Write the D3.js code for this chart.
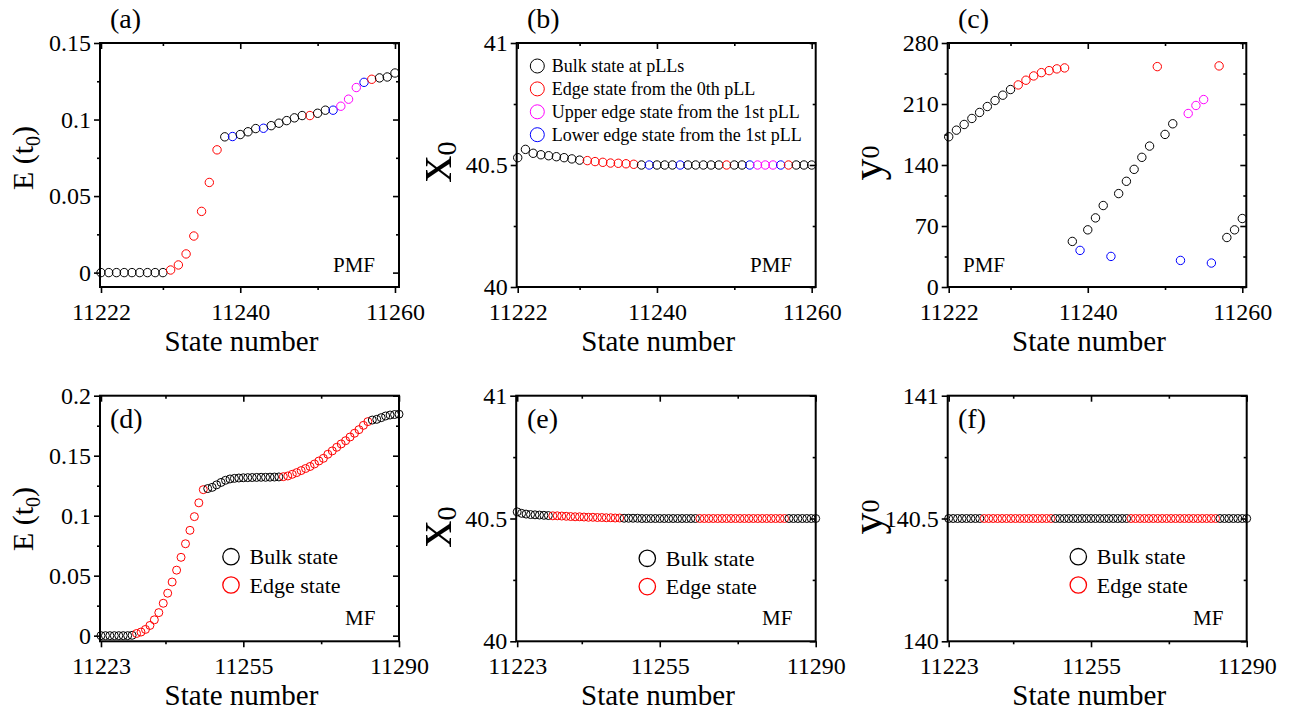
<!DOCTYPE html>
<html>
<head>
<meta charset="utf-8">
<script src="https://cdn.jsdelivr.net/npm/d3@7"></script>
<style>
  body { margin: 0; background: #fff; }
  svg { display: block; font-family: "Liberation Serif", "Times New Roman", serif; }
</style>
</head>
<body>
<svg id="chart" width="1311" height="713"></svg>
<script>
// ---- data ----
// PMF: states 11222..11260
const pmfStart = 11222, pmfEnd = 11260
// b = bulk, r = edge 0th pLL, u = upper edge 1st pLL, l = lower edge 1st pLL
const pmfKinds = "bbbbbbbbbrrrrrrrblbbblbbbbbrbbluuulrbbb".split("")
const pmfE = [0, 0, 0, 0, 0, 0, 0, 0, 0,
  0.0017, 0.005, 0.0122, 0.0239, 0.040, 0.0589, 0.0802,
  0.0887, 0.0889, 0.0902, 0.092, 0.0941, 0.0943, 0.096, 0.0976, 0.0993, 0.1011, 0.1026,
  0.1026, 0.1041, 0.1061, 0.1061, 0.1087, 0.1133, 0.1209, 0.1243, 0.1263, 0.1272, 0.1278, 0.1304]
const pmfX0 = [40.530, 40.564, 40.548, 40.542, 40.538, 40.534, 40.530, 40.525, 40.520,
  40.518, 40.514, 40.511, 40.508, 40.507, 40.505, 40.503,
  40.5, 40.5, 40.5, 40.5, 40.5, 40.5, 40.5, 40.5, 40.5, 40.5, 40.5, 40.5,
  40.5, 40.5, 40.5, 40.5, 40.5, 40.5, 40.5, 40.5, 40.5, 40.5, 40.5]
const pmfY0 = [172.4, 180, 186.5, 193.4, 200.3, 207.1, 214, 220.1, 226.6,
  231.9, 237.3, 242.2, 246, 248.3, 250.3, 251.4,
  52.3, 42, 65.6, 79.3, 93.5, 35.1, 107.2, 121.3, 135, 148.8, 161.7, 252.9,
  175.1, 187.3, 30.5, 199.1, 208.3, 215.1, 27.5, 253.7, 56.8, 65.6, 78.6]

// MF: states 11223..11290
const mfStart = 11223, mfEnd = 11290
const mfKinds = ("bbbbbbbb" + "rrrrrrrrrrrrrrrr" + "bbbbbbbbbbbbbbbbb" +
  "rrrrrrrrrrrrrrrrrrrr" + "bbbbbbb").split("")
const mfE = [0, 0, 0, 0, 0, 0, 0, 0.0003,
  0.0018, 0.003, 0.0052, 0.0085, 0.0132, 0.0192, 0.027, 0.0354, 0.0447, 0.0546, 0.0653,
  0.0766, 0.0878, 0.0992, 0.1107, 0.1217,
  0.1226, 0.1236, 0.1257, 0.1277, 0.1295, 0.1306, 0.1311, 0.1314, 0.1316, 0.1317, 0.1318,
  0.1319, 0.132, 0.132, 0.1321, 0.1322, 0.1323,
  0.1325, 0.1331, 0.1345, 0.1359, 0.1376, 0.1393, 0.141, 0.1431, 0.1456, 0.1478, 0.1512,
  0.154, 0.157, 0.1598, 0.1625, 0.1656, 0.1687, 0.1717, 0.1753, 0.1784,
  0.1797, 0.1803, 0.1817, 0.1831, 0.1839, 0.1843, 0.1846]
const mfX0 = [40.527, 40.521, 40.518, 40.516, 40.515, 40.514, 40.513, 40.512,
  40.511, 40.511, 40.510, 40.509, 40.508, 40.507, 40.507, 40.506, 40.505, 40.505, 40.504,
  40.504, 40.503, 40.503, 40.502, 40.502,
  40.501, 40.501, 40.501, 40.501, 40.5, 40.5, 40.5, 40.5, 40.5, 40.5, 40.5, 40.5, 40.5,
  40.5, 40.5, 40.5, 40.5,
  40.5, 40.5, 40.5, 40.5, 40.5, 40.5, 40.5, 40.5, 40.5, 40.5, 40.5, 40.5, 40.5, 40.5,
  40.5, 40.5, 40.5, 40.5, 40.5, 40.5,
  40.5, 40.5, 40.5, 40.5, 40.5, 40.5, 40.5]
const mfY0 = [140.5, 140.5, 140.5, 140.5, 140.5, 140.5, 140.5, 140.5,
  140.5, 140.5, 140.5, 140.5, 140.5, 140.5, 140.5, 140.5, 140.5, 140.5, 140.5, 140.5,
  140.5, 140.5, 140.5, 140.5,
  140.5, 140.5, 140.5, 140.5, 140.5, 140.5, 140.5, 140.5, 140.5, 140.5, 140.5, 140.5,
  140.5, 140.5, 140.5, 140.5, 140.5,
  140.5, 140.5, 140.5, 140.5, 140.5, 140.5, 140.5, 140.5, 140.5, 140.5, 140.5, 140.5,
  140.5, 140.5, 140.5, 140.5, 140.5, 140.5, 140.5, 140.5,
  140.5, 140.5, 140.5, 140.5, 140.5, 140.5, 140.5]

const pmfXTicks = [11222, 11240, 11260], pmfXMinor = [11230, 11250]
const mfXTicks = [11223, 11255, 11290], mfXMinor = [11237.5, 11272.5]

const kindColor = { b: "#000000", r: "#ff0000", u: "#ff00ff", l: "#0000ff" }
const pmfLegend = [
  ["b", "Bulk state at pLLs"],
  ["r", "Edge state from the 0th pLL"],
  ["u", "Upper edge state from the 1st pLL"],
  ["l", "Lower edge state from the 1st pLL"]]
const mfLegend = [["b", "Bulk state"], ["r", "Edge state"]]

const pmfStates = d3.range(pmfStart, pmfEnd + 1)
const mfStates = d3.range(mfStart, mfEnd + 1)

const svg = d3.select("#chart")
svg.append("rect").attr("width", 1311).attr("height", 713).attr("fill", "#fff")

function panel(c) {
  const x = d3.scaleLinear().domain(c.xDomain).range([c.left, c.right])
  const y = d3.scaleLinear().domain(c.yDomain).range([c.bottom, c.top])
  const g = svg.append("g")

  // left axis: labels + outward ticks
  g.append("g").attr("transform", `translate(${c.left},0)`)
    .call(d3.axisLeft(y).tickValues(c.yTicks).tickSize(6).tickPadding(3).tickFormat(c.yFormat))
  g.append("g").attr("transform", `translate(${c.left},0)`)
    .call(d3.axisLeft(y).tickValues(c.yMinor).tickSize(3).tickFormat(""))
  // right axis: inward ticks
  g.append("g").attr("transform", `translate(${c.right},0)`)
    .call(d3.axisLeft(y).tickValues(c.yTicks).tickSize(6).tickFormat(""))
  g.append("g").attr("transform", `translate(${c.right},0)`)
    .call(d3.axisLeft(y).tickValues(c.yMinor).tickSize(3).tickFormat(""))
  // bottom axis
  g.append("g").attr("transform", `translate(0,${c.bottom})`)
    .call(d3.axisBottom(x).tickValues(c.xTicks).tickSize(6).tickPadding(9.5).tickFormat(d3.format("d")))
  g.append("g").attr("transform", `translate(0,${c.bottom})`)
    .call(d3.axisBottom(x).tickValues(c.xMinor).tickSize(3).tickFormat(""))
  // top axis: inward ticks
  g.append("g").attr("transform", `translate(0,${c.top})`)
    .call(d3.axisBottom(x).tickValues(c.xTicks).tickSize(6).tickFormat(""))
  g.append("g").attr("transform", `translate(0,${c.top})`)
    .call(d3.axisBottom(x).tickValues(c.xMinor).tickSize(3).tickFormat(""))

  g.selectAll(".domain").remove()
  g.selectAll(".tick line").attr("stroke", "#000").attr("stroke-width", 1.6)
  g.selectAll(".tick text").attr("font-size", 24).attr("fill", "#000")
    .attr("font-family", "Liberation Serif, serif")

  // points
  const pts = c.states.map((s, i) => ({ s: s, v: c.values[i], k: c.kinds[i] }))
  g.append("g").selectAll("circle")
    .data(pts)
    .join("circle")
      .attr("cx", d => x(d.s))
      .attr("cy", d => y(d.v))
      .attr("r", c.r)
      .attr("fill", "none")
      .attr("stroke", d => kindColor[d.k])
      .attr("stroke-width", 1)

  // frame
  g.append("rect")
    .attr("x", c.left).attr("y", c.top)
    .attr("width", c.right - c.left).attr("height", c.bottom - c.top)
    .attr("fill", "none").attr("stroke", "#000").attr("stroke-width", 2)

  // x label
  g.append("text")
    .attr("x", (c.left + c.right) / 2 - 8)
    .attr("y", c.bottom + 64)
    .attr("text-anchor", "middle")
    .attr("font-size", 29)
    .text("State number")

  // y label
  const yl = g.append("text")
    .attr("transform", `translate(${c.ylabX},${c.ylabY}) rotate(-90)`)
    .attr("text-anchor", "middle")
  c.ylab(yl)

  // panel letter
  g.append("text").attr("x", c.tagX).attr("y", c.tagY)
    .attr("font-size", 28).text(c.tag)

  // PMF / MF note
  g.append("text").attr("x", c.noteX).attr("y", c.noteY)
    .attr("font-size", 21).text(c.note)

  // legend
  if (c.legend) {
    const L = c.legend
    const lg = g.append("g").selectAll("g")
      .data(L.items)
      .join("g")
        .attr("transform", (d, i) => `translate(${L.x},${L.y + i * L.dy})`)
    lg.append("circle").attr("r", L.r).attr("fill", "none")
      .attr("stroke", d => kindColor[d[0]]).attr("stroke-width", L.sw)
    lg.append("text").attr("x", L.tx).attr("dy", "0.35em")
      .attr("font-size", L.fs).text(d => d[1])
  }
  return g
}

function eLabel(t) {
  t.attr("font-size", 30)
  t.append("tspan").text("E (t")
  t.append("tspan").attr("font-size", 20).attr("dy", 7).text("0")
  t.append("tspan").attr("dy", -7).text(")")
}
function xLabel(t) {
  t.attr("font-size", 54)
  t.append("tspan").text("x")
  t.append("tspan").attr("font-size", 28).attr("dy", 5).text("0")
}
function yLabel(t) {
  t.attr("font-size", 44)
  t.append("tspan").text("y")
  t.append("tspan").attr("font-size", 26).attr("dy", -3).text("0")
}

const topBox = { top: 43, bottom: 287 }
const botBox = { top: 395.7, bottom: 641.3 }
const topXDomain = [11221.87, 11260.52]
const botXDomain = [11222.78, 11290]
const pmfLeg = { items: pmfLegend, x: 537.3, y: 66, dy: 22.9, r: 7, sw: 1, tx: 14.5, fs: 18 }

panel({ ...topBox, left: 100, right: 399, xDomain: topXDomain, yDomain: [-0.0094, 0.15],
  xTicks: pmfXTicks, xMinor: pmfXMinor, yTicks: [0, 0.05, 0.1, 0.15], yMinor: [0.025, 0.075, 0.125],
  yFormat: d => d === 0 ? "0" : String(d), states: pmfStates, values: pmfE, kinds: pmfKinds, r: 4.2,
  ylab: eLabel, ylabX: 33, ylabY: 158, tag: "(a)", tagX: 110, tagY: 28, note: "PMF", noteX: 333, noteY: 272 })

panel({ ...topBox, left: 516.7, right: 815.7, xDomain: topXDomain, yDomain: [40, 41],
  xTicks: pmfXTicks, xMinor: pmfXMinor, yTicks: [40, 40.5, 41], yMinor: [40.25, 40.75],
  yFormat: d => String(d), states: pmfStates, values: pmfX0, kinds: pmfKinds, r: 4.2,
  ylab: xLabel, ylabX: 451, ylabY: 162, tag: "(b)", tagX: 527, tagY: 28, note: "PMF", noteX: 750, noteY: 272,
  legend: pmfLeg })

panel({ ...topBox, left: 947.7, right: 1246.3, xDomain: topXDomain, yDomain: [0, 280],
  xTicks: pmfXTicks, xMinor: pmfXMinor, yTicks: [0, 70, 140, 210, 280], yMinor: [35, 105, 175, 245],
  yFormat: d => String(d), states: pmfStates, values: pmfY0, kinds: pmfKinds, r: 4.2,
  ylab: yLabel, ylabX: 882, ylabY: 163, tag: "(c)", tagX: 958, tagY: 28, note: "PMF", noteX: 963, noteY: 272 })

const mfLeg = (lx, ly) => ({ items: mfLegend, x: lx, y: ly, dy: 28.3, r: 8.2, sw: 1.3, tx: 18.5, fs: 22 })

panel({ ...botBox, left: 100, right: 399, xDomain: botXDomain, yDomain: [-0.0047, 0.2],
  xTicks: mfXTicks, xMinor: mfXMinor, yTicks: [0, 0.05, 0.1, 0.15, 0.2], yMinor: [0.025, 0.075, 0.125, 0.175],
  yFormat: d => d === 0 ? "0" : String(d), states: mfStates, values: mfE, kinds: mfKinds, r: 4,
  ylab: eLabel, ylabX: 33, ylabY: 519, tag: "(d)", tagX: 110, tagY: 428, note: "MF", noteX: 345, noteY: 625,
  legend: mfLeg(231, 556.7) })

panel({ ...botBox, left: 516.2, right: 815.7, xDomain: botXDomain, yDomain: [40, 41],
  xTicks: mfXTicks, xMinor: mfXMinor, yTicks: [40, 40.5, 41], yMinor: [40.25, 40.75],
  yFormat: d => String(d), states: mfStates, values: mfX0, kinds: mfKinds, r: 4,
  ylab: xLabel, ylabX: 451, ylabY: 527, tag: "(e)", tagX: 527, tagY: 428, note: "MF", noteX: 762, noteY: 625,
  legend: mfLeg(647.3, 558.3) })

panel({ ...botBox, left: 947.7, right: 1246.7, xDomain: botXDomain, yDomain: [140, 141],
  xTicks: mfXTicks, xMinor: mfXMinor, yTicks: [140, 140.5, 141], yMinor: [140.25, 140.75],
  yFormat: d => String(d), states: mfStates, values: mfY0, kinds: mfKinds, r: 4,
  ylab: yLabel, ylabX: 882, ylabY: 517, tag: "(f)", tagX: 958, tagY: 428, note: "MF", noteX: 1193, noteY: 625,
  legend: mfLeg(1078.3, 556.7) })
</script>
</body>
</html>
